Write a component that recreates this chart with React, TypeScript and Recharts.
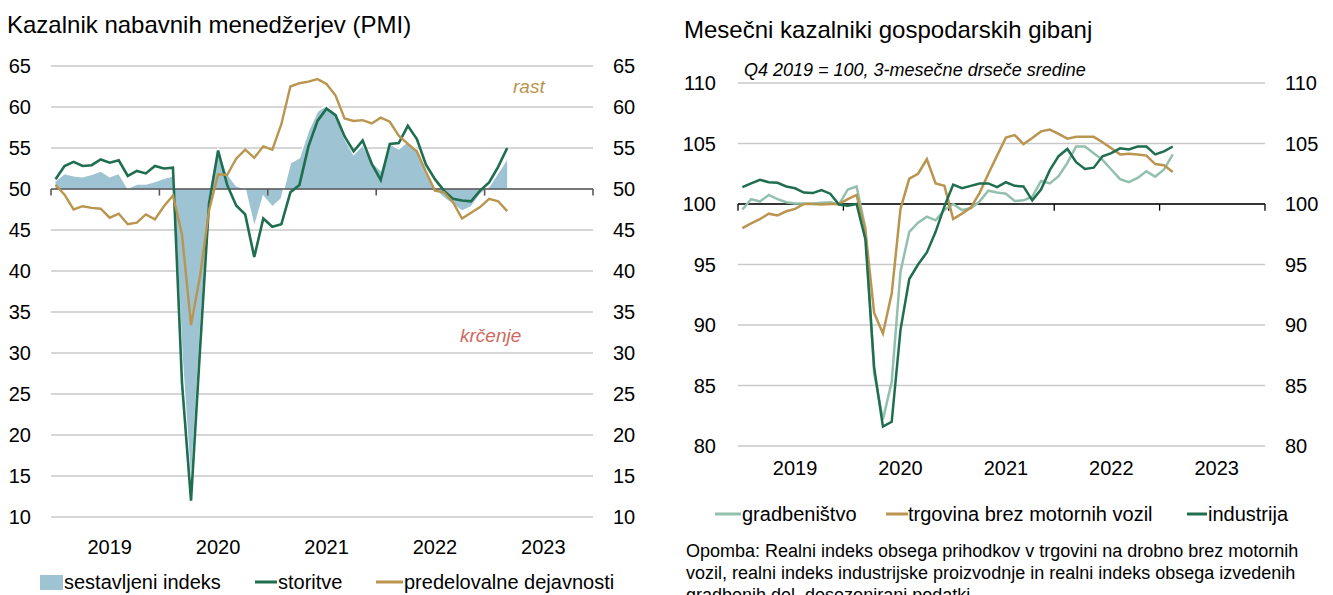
import React from 'react';
import { ComposedChart, LineChart, Line, Area, XAxis, YAxis, CartesianGrid, ReferenceLine } from 'recharts';

// ---------- categories ----------
const years = ['2019', '2020', '2021', '2022', '2023'];

// ---------- left panel: PMI (Jan 2019 – Mar 2023) ----------
const pmiComposite = [
  51.0, 51.9, 51.6, 51.5, 51.8, 52.2, 51.5, 51.9, 50.1, 50.6, 50.6, 50.9,
  51.3, 51.6, 29.7, 13.6, 31.9, 48.5, 54.9, 51.9, 50.4, 50.0, 45.3, 49.1,
  47.8, 48.8, 53.2, 53.8, 57.1, 59.5, 60.2, 59.0, 56.2, 54.2, 55.4, 53.3,
  52.3, 55.5, 54.9, 55.8, 54.8, 52.0, 49.9, 48.9, 48.1, 47.3, 47.8, 49.3,
  50.3, 52.0, 53.7,
];
const pmiServices = [
  51.2, 52.8, 53.3, 52.8, 52.9, 53.6, 53.2, 53.5, 51.6, 52.2, 51.9, 52.8,
  52.5, 52.6, 26.4, 12.0, 30.5, 48.3, 54.7, 50.5, 48.0, 46.9, 41.7, 46.4,
  45.4, 45.7, 49.6, 50.5, 55.2, 58.3, 59.8, 59.0, 56.4, 54.6, 55.9, 53.1,
  51.1, 55.5, 55.6, 57.7, 56.1, 53.0, 51.2, 49.8, 48.8, 48.6, 48.5, 49.8,
  50.8, 52.7, 55.0,
];
const pmiManufacturing = [
  50.5, 49.3, 47.5, 47.9, 47.7, 47.6, 46.5, 47.0, 45.7, 45.9, 46.9, 46.3,
  47.9, 49.2, 44.5, 33.4, 39.4, 47.4, 51.8, 51.7, 53.7, 54.8, 53.8, 55.2,
  54.8, 57.9, 62.5, 62.9, 63.1, 63.4, 62.8, 61.4, 58.6, 58.3, 58.4, 58.0,
  58.7, 58.2, 56.5, 55.5, 54.6, 52.1, 49.8, 49.6, 48.4, 46.4, 47.1, 47.8,
  48.8, 48.5, 47.3,
];
const pmiTicks = [10, 15, 20, 25, 30, 35, 40, 45, 50, 55, 60, 65];

// ---------- right panel: monthly indicators (Jan 2019 – Feb 2023) ----------
const construction = [
  99.55, 100.4, 100.2, 100.75, 100.4, 100.15, 100.05, 100.05, 100.05, 100.1, 100.15, 99.95,
  101.2, 101.45, 98.0, 86.0, 82.2, 85.3, 94.4, 97.7, 98.45, 98.95, 98.65, 99.5,
  100.0, 99.5, 99.65, 100.2, 101.1, 100.95, 100.85, 100.25, 100.3, 100.6, 101.9, 101.7,
  102.3, 103.4, 104.75, 104.75, 104.2, 103.65, 102.85, 102.05, 101.8, 102.15, 102.7, 102.25,
  102.85, 104.1,
];
const retail = [
  98.0, 98.4, 98.75, 99.2, 99.05, 99.4, 99.6, 100.0, 100.0, 99.95, 100.0, 100.0,
  100.4, 100.75, 97.85, 91.0, 89.3, 92.6, 99.6, 102.1, 102.5, 103.7, 101.7, 101.5,
  98.75, 99.2, 99.7, 100.9, 102.5, 104.0, 105.5, 105.7, 104.95, 105.45, 106.0, 106.15,
  105.8, 105.4, 105.55, 105.55, 105.55, 105.1, 104.6, 104.1, 104.15, 104.1, 104.0, 103.3,
  103.2, 102.65,
];
const industry = [
  101.4, 101.7, 102.0, 101.8, 101.75, 101.45, 101.3, 100.95, 100.9, 101.15, 100.85, 99.95,
  99.85, 100.0, 97.1, 86.5, 81.6, 82.0, 89.6, 93.8, 95.0, 96.0, 97.7, 99.8,
  101.6, 101.3, 101.5, 101.7, 101.7, 101.4, 101.8, 101.5, 101.45, 100.3, 101.2, 102.8,
  103.95, 104.55, 103.45, 102.9, 103.0, 103.95, 104.2, 104.6, 104.5, 104.75, 104.75, 104.1,
  104.35, 104.75,
];
const econTicks = [80, 85, 90, 95, 100, 105, 110];

// ---------- styling ----------
const FONT = '"Liberation Sans", Arial, Helvetica, sans-serif';
const C = {
  area: '#9ec3d3',
  green: '#1e6e4f',
  gold: '#b9954f',
  light: '#93c0ae',
  grid: '#c9c9c9',
  axis: '#595959',
  red: '#cf6a5e',
};

// ---------- tables built from the arrays ----------
const pmiData = pmiComposite.map((v, i) => ({
  t: i + 0.5,
  composite: v,
  services: pmiServices[i],
  manufacturing: pmiManufacturing[i],
}));
const econData = industry.map((v, i) => ({
  t: i + 0.5,
  construction: construction[i],
  retail: retail[i],
  industry: v,
}));

const yearTicks = years.map((_, k) => k * 12 + 6.5);
const yearBounds = [0, ...years.map((_, k) => (k + 1) * 12)];
const yearLabel = (v: number) => years[Math.floor(v / 12)] ?? '';

const tickStyle = { fontSize: 20, fill: '#000', fontFamily: FONT };

function PmiChart() {
  return (
    <ComposedChart width={660} height={595} data={pmiData} margin={{ top: 66, right: 17, bottom: 48, left: 8 }}>
      <CartesianGrid yAxisId="left" vertical={false} stroke={C.grid} strokeWidth={1.3} />
      <XAxis
        dataKey="t"
        type="number"
        domain={[0, 60]}
        allowDataOverflow
        ticks={yearTicks}
        tickFormatter={yearLabel}
        axisLine={false}
        tickLine={false}
        tickSize={0}
        tickMargin={23}
        height={30}
        tick={tickStyle}
        interval={0}
      />
      <YAxis
        yAxisId="left"
        type="number"
        domain={[10, 65]}
        allowDataOverflow
        ticks={pmiTicks}
        axisLine={false}
        tickLine={false}
        tickSize={0}
        tickMargin={20}
        width={43}
        tick={tickStyle}
        interval={0}
      />
      <YAxis
        yAxisId="right"
        orientation="right"
        type="number"
        domain={[10, 65]}
        allowDataOverflow
        ticks={pmiTicks}
        axisLine={false}
        tickLine={false}
        tickSize={0}
        tickMargin={20}
        width={50}
        tick={tickStyle}
        interval={0}
      />
      <Area
        yAxisId="left"
        type="linear"
        dataKey="composite"
        baseValue={50}
        fill={C.area}
        fillOpacity={1}
        stroke="#ffffff"
        strokeWidth={1.5}
        dot={false}
        activeDot={false}
        isAnimationActive={false}
      />
      <ReferenceLine yAxisId="left" y={50} stroke={C.axis} strokeWidth={1.6} />
      {yearBounds.map((b) => (
        <ReferenceLine
          key={'pt' + b}
          yAxisId="left"
          ifOverflow="visible"
          segment={[{ x: b, y: 50 }, { x: b, y: 49.2 }]}
          stroke={C.axis}
          strokeWidth={1.6}
        />
      ))}
      <Line
        yAxisId="left"
        type="linear"
        dataKey="services"
        stroke={C.green}
        strokeWidth={2.6}
        dot={false}
        activeDot={false}
        isAnimationActive={false}
      />
      <Line
        yAxisId="right"
        type="linear"
        dataKey="manufacturing"
        stroke={C.gold}
        strokeWidth={2.4}
        dot={false}
        activeDot={false}
        isAnimationActive={false}
      />
    </ComposedChart>
  );
}

function EconChart() {
  return (
    <LineChart width={673} height={595} data={econData} margin={{ top: 83, right: 8, bottom: 119, left: 8 }}>
      <CartesianGrid yAxisId="left" vertical={false} stroke={C.grid} strokeWidth={1.3} />
      <XAxis
        dataKey="t"
        type="number"
        domain={[0, 60]}
        allowDataOverflow
        ticks={yearTicks}
        tickFormatter={yearLabel}
        axisLine={false}
        tickLine={false}
        tickSize={0}
        tickMargin={15}
        height={30}
        tick={tickStyle}
        interval={0}
      />
      <YAxis
        yAxisId="left"
        type="number"
        domain={[80, 110]}
        allowDataOverflow
        ticks={econTicks}
        axisLine={false}
        tickLine={false}
        tickSize={0}
        tickMargin={22}
        width={70}
        tick={tickStyle}
        interval={0}
      />
      <YAxis
        yAxisId="right"
        orientation="right"
        type="number"
        domain={[80, 110]}
        allowDataOverflow
        ticks={econTicks}
        axisLine={false}
        tickLine={false}
        tickSize={0}
        tickMargin={20}
        width={60}
        tick={tickStyle}
        interval={0}
      />
      <ReferenceLine yAxisId="left" y={100} stroke="#000" strokeWidth={1.3} />
      {yearBounds.map((b) => (
        <ReferenceLine
          key={'et' + b}
          yAxisId="left"
          ifOverflow="visible"
          segment={[{ x: b, y: 100 }, { x: b, y: 99.45 }]}
          stroke="#000"
          strokeWidth={1.3}
        />
      ))}
      <Line
        yAxisId="left"
        type="linear"
        dataKey="construction"
        stroke={C.light}
        strokeWidth={2.5}
        dot={false}
        activeDot={false}
        isAnimationActive={false}
      />
      <Line
        yAxisId="left"
        type="linear"
        dataKey="retail"
        stroke={C.gold}
        strokeWidth={2.5}
        dot={false}
        activeDot={false}
        isAnimationActive={false}
      />
      <Line
        yAxisId="right"
        type="linear"
        dataKey="industry"
        stroke={C.green}
        strokeWidth={2.5}
        dot={false}
        activeDot={false}
        isAnimationActive={false}
      />
    </LineChart>
  );
}

function Overlay() {
  const t = { fontFamily: FONT, fill: '#000' } as const;
  return (
    <svg width={1333} height={595} style={{ position: 'absolute', left: 0, top: 0, pointerEvents: 'none' }}>
      {/* titles */}
      <text x={7} y={33} fontSize={24} {...t}>Kazalnik nabavnih menedžerjev (PMI)</text>
      <text x={684} y={38} fontSize={24} {...t}>Mesečni kazalniki gospodarskih gibanj</text>
      <text x={744} y={76} fontSize={18} fontStyle="italic" {...t}>Q4 2019 = 100, 3-mesečne drseče sredine</text>
      {/* annotations */}
      <text x={513} y={93} fontSize={19} fontStyle="italic" fontFamily={FONT} fill={C.gold}>rast</text>
      <text x={460} y={342} fontSize={19} fontStyle="italic" fontFamily={FONT} fill={C.red}>krčenje</text>
      {/* left legend */}
      <rect x={40} y={575} width={23} height={15} fill={C.area} />
      <text x={64} y={589} fontSize={20} {...t}>sestavljeni indeks</text>
      <line x1={255} x2={277} y1={582} y2={582} stroke={C.green} strokeWidth={3} />
      <text x={278} y={589} fontSize={20} {...t}>storitve</text>
      <line x1={376} x2={403} y1={582} y2={582} stroke={C.gold} strokeWidth={3} />
      <text x={404} y={589} fontSize={20} {...t}>predelovalne dejavnosti</text>
      {/* right legend */}
      <line x1={715} x2={741} y1={514} y2={514} stroke={C.light} strokeWidth={3} />
      <text x={742} y={521} fontSize={20} {...t}>gradbeništvo</text>
      <line x1={886} x2={908} y1={514} y2={514} stroke={C.gold} strokeWidth={3} />
      <text x={908} y={521} fontSize={20} {...t}>trgovina brez motornih vozil</text>
      <line x1={1187} x2={1207} y1={514} y2={514} stroke={C.green} strokeWidth={3} />
      <text x={1208} y={521} fontSize={20} {...t}>industrija</text>
      {/* note */}
      <text x={686} y={557} fontSize={18} {...t}>Opomba: Realni indeks obsega prihodkov v trgovini na drobno brez motornih</text>
      <text x={686} y={579} fontSize={18} {...t}>vozil, realni indeks industrijske proizvodnje in realni indeks obsega izvedenih</text>
      <text x={686} y={601} fontSize={18} {...t}>gradbenih del, desezonirani podatki.</text>
    </svg>
  );
}

export default function App() {
  return (
    <div
      style={{
        position: 'absolute',
        left: 0,
        top: 0,
        width: 1333,
        height: 595,
        overflow: 'hidden',
        background: '#fff',
        fontFamily: FONT,
      }}
    >
      <div style={{ position: 'absolute', left: 0, top: 0 }}>
        <PmiChart />
      </div>
      <div style={{ position: 'absolute', left: 660, top: 0 }}>
        <EconChart />
      </div>
      <Overlay />
    </div>
  );
}
